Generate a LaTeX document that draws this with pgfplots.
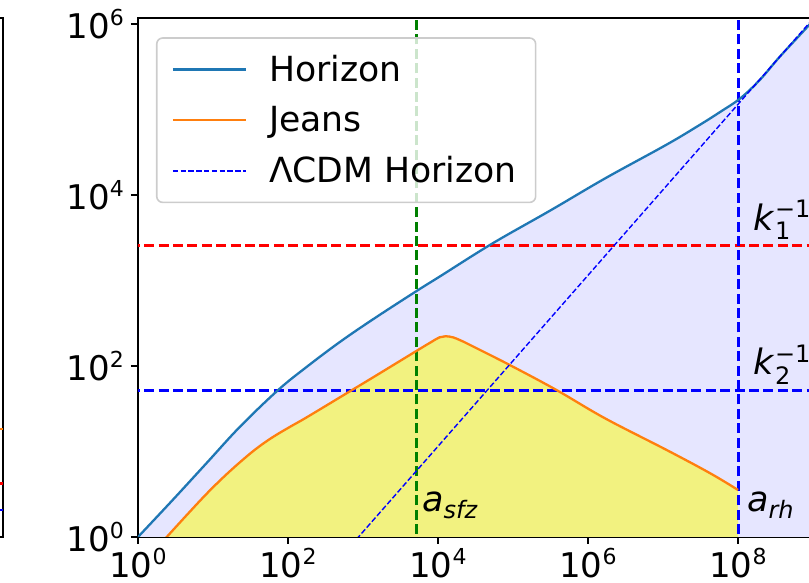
\documentclass[border=0pt]{standalone}
\usepackage{fontspec}
\setmainfont{DejaVu Sans}
\usepackage{amsmath}
\usepackage{pgfplots}
\usepackage{pgfplotstable}
\pgfplotsset{compat=1.18}
\definecolor{hor}{HTML}{1F77B4}
\definecolor{jea}{HTML}{FF7F0E}
\definecolor{lav}{RGB}{230,230,255}
\definecolor{yel}{RGB}{242,242,128}
\definecolor{mgreen}{RGB}{0,128,0}
\newcommand\tp[1]{10\raisebox{0.38em}{\fontsize{11}{11}\selectfont #1}}
\newcommand\lsub[1]{\raisebox{-0.2em}{\fontsize{12}{12}\selectfont\itshape #1}}

\pgfplotstableread{
x y
1 1
2.951 2.754
8.318 7.413
22.91 19.50
74.13 52.48
177.8 97.72
489.8 190.5
1380 354.8
5248 758.6
10715 1122
52481 2692
316228 6607
1.698e6 15668
1.122e7 38905
3.090e7 66069
5.754e7 93325
1.0715e8 134896
1.950e8 221309
3.631e8 416869
8.913e8 977237
1.585e9 1.738e6
}\horizon

\pgfplotstableread{
x y
1.95 0.813
2.415 1
4.898 1.972
8.318 3.236
13.80 5.012
22.91 7.499
38.02 10.84
63.10 14.79
107.2 19.50
177.8 25.12
602.6 47.86
1380 74.13
5248 151.4
7943 188.4
10471 216.3
12589 222.8
15849 216.3
19953 199.5
26915 175.8
91201 102.3
380189 52.36
1.687e6 24.43
1.122e7 10.40
4.266e7 5.559
1e8 3.55
}\jeans

\begin{document}
\begin{tikzpicture}
\begin{scope}
\clip (-69pt,-23pt) rectangle (335.5pt,268.5pt);
% edge of the neighbouring panel
\begin{axis}[at={(-67.5pt,0pt)}, anchor=south east, scale only axis,
  width=150pt, height=259.5pt, ymode=log, ymin=1, ymax=1.175e6,
  xmin=0, xmax=1, ticks=none, axis line style={line width=1.1pt}]
\addplot[jea, line width=1.15pt] coordinates {(0,18.2) (1,18.2)};
\addplot[red, line width=1.5pt] coordinates {(0,4.27) (1,4.27)};
\addplot[blue, line width=1.1pt] coordinates {(0,2.09) (1,2.09)};
\end{axis}

\begin{axis}[scale only axis, width=345pt, height=259.5pt,
  xmode=log, ymode=log, xmin=1, xmax=1.585e9, ymin=1, ymax=1.175e6,
  xtick={1,100,1e4,1e6,1e8},
  xticklabels={\tp{0},\tp{2},\tp{4},\tp{6},\tp{8}},
  ytick={1,100,1e4,1e6},
  yticklabels={\tp{0},\tp{2},\tp{4},\tp{6}},
  xtick pos=bottom, ytick pos=left,
  tick align=outside, major tick length=3.5pt,
  tick style={black, line width=1.1pt},
  axis line style={line width=1.1pt},
  tick label style={font=\fontsize{17}{20}\selectfont},
  xticklabel style={inner sep=2pt},
  legend style={at={(axis description cs:0.026,0.963)}, anchor=north west,
    draw=black!20, line width=0.8pt, rounded corners=3pt, fill=white,
    fill opacity=0.8, text opacity=1, font=\fontsize{17.3}{20}\selectfont,
    row sep=7pt, inner xsep=7.5pt, inner ysep=6.4pt,
    /tikz/every odd column/.append style={column sep=9pt}},
  legend cell align=left,
  legend image code/.code={\draw[#1] (0pt,0pt) -- (36.5pt,0pt);},
]
% fills
\addplot[fill=lav, draw=none, forget plot, smooth, tension=0.6] table {\horizon} \closedcycle;
\addplot[fill=yel, draw=none, forget plot, smooth, tension=0.6] table {\jeans} \closedcycle;
% reference lines
\addplot[red, line width=1.5pt, dash pattern=on 5pt off 2.2pt, forget plot] coordinates {(0.5,2600) (2e9,2600)};
\addplot[blue, line width=1.5pt, dash pattern=on 5pt off 2.2pt, forget plot] coordinates {(0.5,52) (2e9,52)};
\addplot[mgreen, line width=1.5pt, dash pattern=on 5pt off 2.2pt, forget plot] coordinates {(5200,0.5) (5200,2e6)};
\addplot[blue, line width=1.5pt, dash pattern=on 5pt off 2.2pt, forget plot] coordinates {(1e8,0.5) (1e8,2e6)};
% curves
\addplot[hor, line width=1.15pt, smooth, tension=0.6] table {\horizon};
\addlegendentry{Horizon}
\addplot[jea, line width=1.15pt, smooth, tension=0.6] table {\jeans};
\addlegendentry{Jeans}
\addplot[blue, line width=0.7pt, dash pattern=on 2.7pt off 1.2pt] coordinates {(435,0.5) (1.585e9,1.822e6)};
\addlegendentry{ΛCDM Horizon}
% labels
\node[anchor=base west, inner sep=0pt, font=\fontsize{17.5}{18}\selectfont] at (axis cs:6067,1.98) {\textit{a}\lsub{sfz}};
\node[anchor=base west, inner sep=0pt, font=\fontsize{17.5}{18}\selectfont] at (axis cs:1.306e8,1.98) {\textit{a}\lsub{rh}};
\node[anchor=base west, inner sep=0pt, font=\fontsize{17.5}{18}\selectfont] at (axis cs:1.6e8,3890) {\textit{k}\rlap{\raisebox{-0.27em}{\fontsize{12}{12}\selectfont 1}}\raisebox{0.36em}{\fontsize{12}{12}\selectfont −1}};
\node[anchor=base west, inner sep=0pt, font=\fontsize{17.5}{18}\selectfont] at (axis cs:1.6e8,78.5) {\textit{k}\rlap{\raisebox{-0.27em}{\fontsize{12}{12}\selectfont 2}}\raisebox{0.36em}{\fontsize{12}{12}\selectfont −1}};
\node[anchor=center, inner sep=0pt] at (axis description cs:-0.1377,0.542) {$\dfrac{\text{\fontsize{11}{11}\selectfont\itshape k}_{\text{\fontsize{8.5}{9}\selectfont\itshape hor,\,i}}}{\text{\fontsize{11}{11}\selectfont\itshape k}}$};
\end{axis}
\end{scope}
\pgfresetboundingbox
\useasboundingbox (-69pt,-23pt) rectangle (335.5pt,268.5pt);
\end{tikzpicture}
\end{document}
